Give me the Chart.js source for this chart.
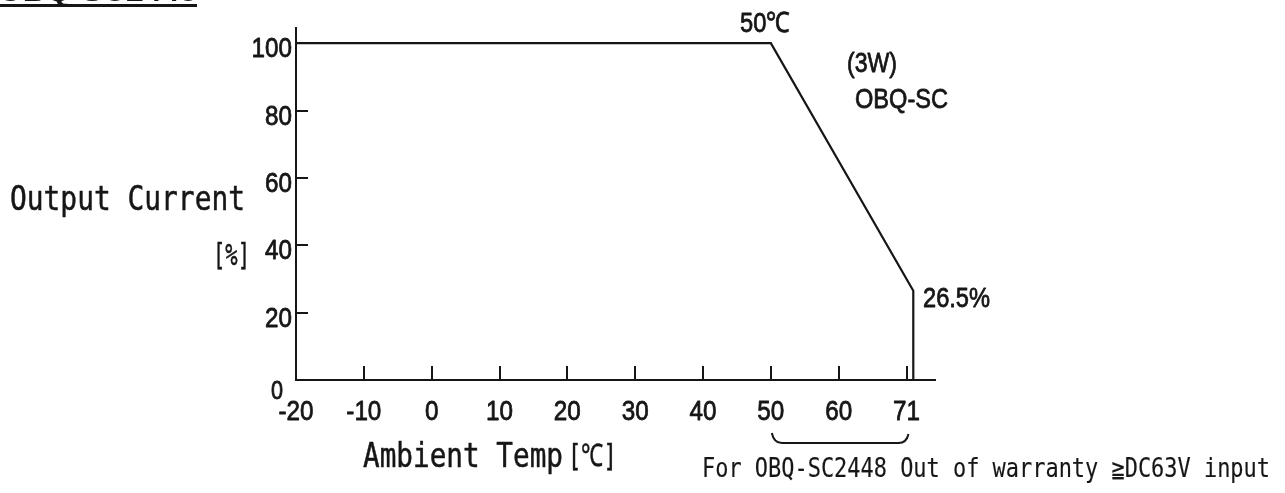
<!DOCTYPE html>
<html>
<head>
<meta charset="utf-8">
<title>OBQ-SC2448 derating curve</title>
<script src="https://cdn.jsdelivr.net/npm/chart.js@4.4.1/dist/chart.umd.min.js"></script>
<style>
  html, body { margin: 0; padding: 0; background: #ffffff; }
  #wrap { position: relative; width: 1285px; height: 493px; }
</style>
</head>
<body>
<div id="wrap"><canvas id="derating"></canvas></div>
<script>
// Derating curve: ambient temperature (°C) vs. output current (%)
const tempPoints    = [-20, 50, 71, 71];
const currentPoints = [100, 100, 26.5, 0];

// Axis ticks
const xTickValues = [-20, -10, 0, 10, 20, 30, 40, 50, 60, 70];
const xTickLabels = ['-20', '-10', '0', '10', '20', '30', '40', '50', '60', '71'];
const yTickValues = [0, 20, 40, 60, 80, 100];
const yTickLabels = ['0', '20', '40', '60', '80', '100'];

// Texts
const titleText   = 'OBQ-SC2448';
const yTitle      = 'Output Current';
const yUnit       = '[%]';
const xTitle      = 'Ambient Temp';
const xUnit       = '[℃]';
const kneeLabel   = '50℃';
const powerLabel  = '(3W)';
const modelLabel  = 'OBQ-SC';
const endLabel    = '26.5%';
const noteText    = 'For OBQ-SC2448 Out of warranty ≧DC63V input';

const W = 1285, H = 493;
const PLOT = { left: 296, top: 28, right: 935, bottom: 380 };
const INK = '#161616';
const NUM_FONT = "'Liberation Sans', Arial, sans-serif";
const MONO_FONT = "'DejaVu Sans Mono', 'Liberation Mono', monospace";
const NUM_SQUEEZE = 0.865;   // condensed look for the numerals
const NUM_WEIGHT = 0.8;      // extra outline widths that thicken the strokes
const TITLE_WEIGHT = 0.5;
const NOTE_WEIGHT = 0.15;

function paintText(ctx, text, weight) {
  ctx.fillStyle = INK;
  ctx.fillText(text, 0, 0);
  if (weight > 0) {
    ctx.strokeStyle = INK;
    ctx.lineWidth = weight;
    ctx.lineJoin = 'round';
    ctx.strokeText(text, 0, 0);
  }
}

// Draws text squeezed/stretched horizontally so it spans exactly `width` px.
function fitText(ctx, text, x, baseline, width, font, weight) {
  ctx.save();
  ctx.font = font;
  ctx.textBaseline = 'alphabetic';
  ctx.textAlign = 'left';
  const w = ctx.measureText(text).width;
  ctx.translate(x, baseline);
  ctx.scale(width / w, 1);
  paintText(ctx, text, weight);
  ctx.restore();
}

// Draws text with a fixed horizontal squeeze, anchored by `align`.
function squeezedText(ctx, text, x, baseline, font, sx, align, weight) {
  ctx.save();
  ctx.font = font;
  ctx.textBaseline = 'alphabetic';
  ctx.textAlign = align;
  ctx.translate(x, baseline);
  ctx.scale(sx, 1);
  paintText(ctx, text, weight);
  ctx.restore();
}

const decorations = {
  id: 'decorations',
  afterDraw(chart) {
    const ctx = chart.ctx;
    const xs = chart.scales.x, ys = chart.scales.y;
    const x0 = xs.getPixelForValue(xs.min);
    const y0 = ys.getPixelForValue(0);

    // Inward tick marks
    ctx.save();
    ctx.strokeStyle = INK;
    ctx.lineWidth = 2;
    ctx.beginPath();
    xs.ticks.forEach(t => {
      if (t.value === xs.min) return;
      const px = Math.round(xs.getPixelForValue(t.value));
      ctx.moveTo(px, y0);
      ctx.lineTo(px, y0 - 14);
    });
    ys.ticks.forEach(t => {
      if (t.value === 0) return;
      const py = Math.round(ys.getPixelForValue(t.value));
      ctx.moveTo(x0, py);
      ctx.lineTo(x0 + 12, py);
    });
    ctx.stroke();

    // Brace under the 50 … 71 range
    const bl = xs.getPixelForValue(50) + 1;
    const br = xs.getPixelForValue(70) + 1;
    ctx.beginPath();
    ctx.moveTo(bl, 433);
    ctx.quadraticCurveTo(bl + 2, 443, bl + 10, 443);
    ctx.lineTo(br - 9, 443);
    ctx.quadraticCurveTo(br - 1, 443, br + 1, 434);
    ctx.stroke();

    // Title (underlined)
    ctx.fillStyle = INK;
    ctx.fillRect(0, 4, 197, 3);
    ctx.restore();
    fitText(ctx, titleText, -2, 1, 199, "bold 30px 'Liberation Sans', Arial, sans-serif", 0);

    // Tick labels, placed at the scales' tick positions
    const numFont = '28px ' + NUM_FONT;
    xs.ticks.forEach((t, i) => {
      squeezedText(ctx, xTickLabels[i], xs.getPixelForValue(t.value), 420, numFont, NUM_SQUEEZE, 'center', NUM_WEIGHT);
    });
    ys.ticks.forEach((t, i) => {
      if (i === 0) {
        // origin label sits low and to the left of the corner
        squeezedText(ctx, yTickLabels[i], x0 - 13, y0 + 19, '25px ' + NUM_FONT, NUM_SQUEEZE, 'right', NUM_WEIGHT);
        return;
      }
      squeezedText(ctx, yTickLabels[i], x0 - 4, ys.getPixelForValue(t.value) + 14, numFont, NUM_SQUEEZE, 'right', NUM_WEIGHT);
    });

    // Axis titles
    fitText(ctx, yTitle, 10, 210, 235, '33px ' + MONO_FONT, TITLE_WEIGHT);
    fitText(ctx, yUnit, 213, 265, 37, '31px ' + MONO_FONT, TITLE_WEIGHT);
    fitText(ctx, xTitle, 363, 467, 200, '33px ' + MONO_FONT, TITLE_WEIGHT);
    fitText(ctx, xUnit, 568, 466, 49, '31px ' + MONO_FONT, TITLE_WEIGHT);

    // Curve annotations
    fitText(ctx, kneeLabel, 740, 32, 50, '28px ' + NUM_FONT, NUM_WEIGHT);
    fitText(ctx, powerLabel, 847, 72, 50, '27px ' + NUM_FONT, NUM_WEIGHT);
    fitText(ctx, modelLabel, 855, 108, 93, '28px ' + NUM_FONT, NUM_WEIGHT);
    fitText(ctx, endLabel, 923, 307, 67, '28px ' + NUM_FONT, NUM_WEIGHT);

    // Footnote
    fitText(ctx, noteText, 702, 477, 568, '26px ' + MONO_FONT, NOTE_WEIGHT);
  }
};

new Chart(document.getElementById('derating'), {
  type: 'line',
  data: {
    datasets: [{
      data: tempPoints.map((t, i) => ({ x: t, y: currentPoints[i] })),
      borderColor: INK,
      borderWidth: 2.2,
      pointRadius: 0,
      tension: 0,
      fill: false,
      clip: false
    }]
  },
  options: {
    responsive: true,
    maintainAspectRatio: false,
    animation: false,
    events: [],
    layout: { padding: { left: 0, top: PLOT.top, right: W - PLOT.right, bottom: 0 } },
    plugins: { legend: { display: false }, tooltip: { enabled: false } },
    scales: {
      x: {
        type: 'linear',
        min: -20,
        max: 74.2,
        afterBuildTicks: s => { s.ticks = xTickValues.map(v => ({ value: v })); },
        afterFit: s => { s.height = H - PLOT.bottom; },
        grid: { display: false, drawTicks: false },
        border: { display: true, color: INK, width: 2 },
        ticks: { display: false, autoSkip: false }
      },
      y: {
        type: 'linear',
        min: 0,
        max: 104.5,
        afterBuildTicks: s => { s.ticks = yTickValues.map(v => ({ value: v })); },
        afterFit: s => { s.width = PLOT.left; },
        grid: { display: false, drawTicks: false },
        border: { display: true, color: INK, width: 2 },
        ticks: { display: false }
      }
    }
  },
  plugins: [decorations]
});
</script>
</body>
</html>
